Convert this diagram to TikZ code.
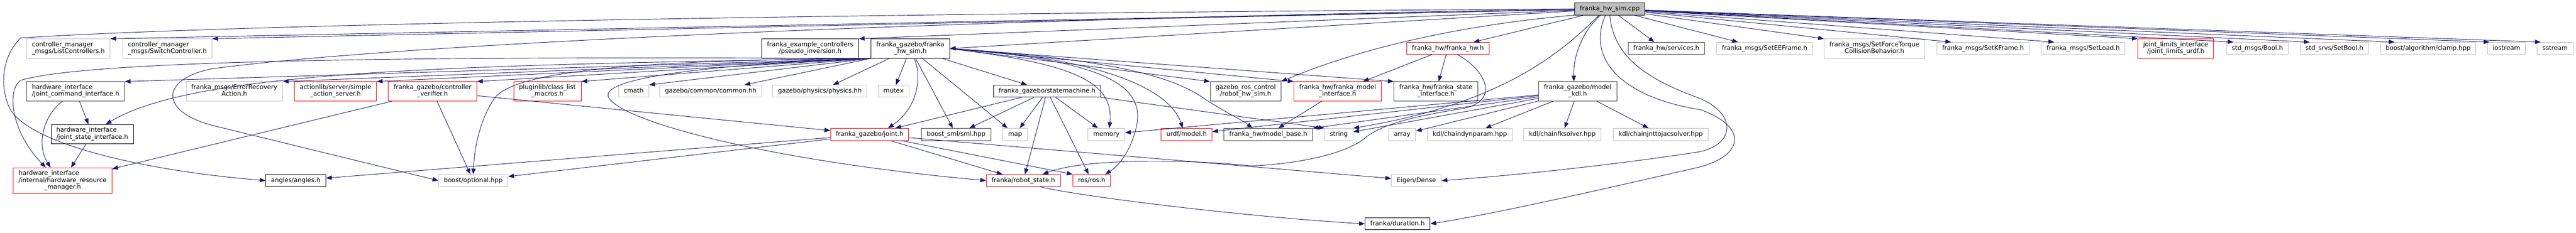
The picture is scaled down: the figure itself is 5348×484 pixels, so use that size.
\documentclass[tikz,border=0pt]{standalone}
\usepackage{fontspec}
\setmainfont{DejaVu Sans}
\usetikzlibrary{arrows.meta}
\usepackage{xcolor}

\definecolor{edgeblue}{HTML}{191970}
\definecolor{grey75}{HTML}{BFBFBF}
\definecolor{grey25}{HTML}{404040}

% doxygen labels: lines left aligned, last line centred
\newcommand{\twol}[2]{\begin{tabular}{@{}l@{}}#1\\\multicolumn{1}{@{}c@{}}{#2}\end{tabular}}
\newcommand{\threel}[3]{\begin{tabular}{@{}l@{}}#1\\#2\\\multicolumn{1}{@{}c@{}}{#3}\end{tabular}}

\tikzset{
  hdr/.style={draw, line width=1pt, inner xsep=11pt, inner ysep=0pt,
    font={\fontsize{13}{14.3}\selectfont}},
  one/.style={hdr, minimum height=25pt, text height=9.6pt, text depth=2.8pt},
  two/.style={hdr, minimum height=40pt},
  three/.style={hdr, minimum height=54pt},
  doc/.style={draw=black},
  docg/.style={draw=grey25},
  sys/.style={draw=grey75},
  trunc/.style={draw=red},
  dep/.style={edgeblue, line width=1pt, -{Triangle[length=12pt,width=9pt]}}
}

\begin{document}
\begin{tikzpicture}[x=1pt, y=-1pt]
    \useasboundingbox (0,0) rectangle (5348,484);

    % source file
    \node[one, doc, fill=grey75] (cpp) at (3342,18.5) {franka\_hw\_sim.cpp};

    % direct includes
    \node[two, sys] (lc) at (142,101) {\twol{controller\_manager}{\_msgs/ListControllers.h}};
    \node[two, sys] (sc) at (347.5,101) {\twol{controller\_manager}{\_msgs/SwitchController.h}};
    \node[two, doc] (pinv) at (1682,101) {\twol{franka\_example\_controllers}{/pseudo\_inversion.h}};
    \node[two, doc] (hwsimh) at (1890,101) {\twol{franka\_gazebo/franka}{\_hw\_sim.h}};
    \node[one, trunc] (fhw) at (3006,100.5) {franka\_hw/franka\_hw.h};
    \node[one, docg] (svc) at (3459.5,100.5) {franka\_hw/services.h};
    \node[one, sys] (seeframe) at (3663.5,100.5) {franka\_msgs/SetEEFrame.h};
    \node[two, sys] (sftcb) at (3891.5,101) {\twol{franka\_msgs/SetForceTorque}{CollisionBehavior.h}};
    \node[one, sys] (skframe) at (4117,100.5) {franka\_msgs/SetKFrame.h};
    \node[one, sys] (setload) at (4325,100.5) {franka\_msgs/SetLoad.h};
    \node[two, trunc] (jlurdf) at (4517,101) {\twol{joint\_limits\_interface}{/joint\_limits\_urdf.h}};
    \node[one, sys] (boolh) at (4686.5,100.5) {std\_msgs/Bool.h};
    \node[one, sys] (setbool) at (4846.5,100.5) {std\_srvs/SetBool.h};
    \node[one, sys] (clamp) at (5041,100.5) {boost/algorithm/clamp.hpp};
    \node[one, sys] (iostream) at (5203.5,100.5) {iostream};
    \node[one, sys] (sstream) at (5304.5,100.5) {sstream};

    % third row
    \node[two, docg] (jci) at (157,190) {\twol{hardware\_interface}{/joint\_command\_interface.h}};
    \node[two, sys] (erra) at (486.5,190) {\twol{franka\_msgs/ErrorRecovery}{Action.h}};
    \node[two, trunc] (sas) at (696.5,190) {\twol{actionlib/server/simple}{\_action\_server.h}};
    \node[two, trunc] (cver) at (898,190) {\twol{franka\_gazebo/controller}{\_verifier.h}};
    \node[two, trunc] (plugin) at (1136.5,190) {\twol{pluginlib/class\_list}{\_macros.h}};
    \node[one, sys] (cmath) at (1315.5,189.5) {cmath};
    \node[one, sys] (common) at (1475.5,189.5) {gazebo/common/common.hh};
    \node[one, sys] (physics) at (1702,189.5) {gazebo/physics/physics.hh};
    \node[one, sys] (mutex) at (1855,189.5) {mutex};
    \node[one, doc] (smach) at (2174,189.5) {franka\_gazebo/statemachine.h};
    \node[two, docg] (grc) at (2586,190) {\twol{gazebo\_ros\_control}{/robot\_hw\_sim.h}};
    \node[two, trunc] (fmi) at (2777,190) {\twol{franka\_hw/franka\_model}{\_interface.h}};
    \node[two, docg] (fsi) at (2981,190) {\twol{franka\_hw/franka\_state}{\_interface.h}};
    \node[two, docg] (mkdl) at (3275.5,190) {\twol{franka\_gazebo/model}{\_kdl.h}};

    % fourth row
    \node[two, doc] (jsi) at (191.5,279) {\twol{hardware\_interface}{/joint\_state\_interface.h}};
    \node[one, trunc] (joint) at (1805.5,279.5) {franka\_gazebo/joint.h};
    \node[one, docg] (sml) at (1985,279.5) {boost\_sml/sml.hpp};
    \node[one, sys] (map) at (2107.5,279.5) {map};
    \node[one, sys] (memory) at (2297,279.5) {memory};
    \node[one, trunc] (urdf) at (2463.5,279.5) {urdf/model.h};
    \node[one, docg] (mbase) at (2633,279.5) {franka\_hw/model\_base.h};
    \node[one, sys] (string) at (2779.5,279.5) {string};
    \node[one, sys] (array) at (2911,279.5) {array};
    \node[one, sys] (cdyn) at (3051.5,279.5) {kdl/chaindynparam.hpp};
    \node[one, sys] (cfk) at (3243.5,279.5) {kdl/chainfksolver.hpp};
    \node[one, sys] (cjac) at (3447.5,279.5) {kdl/chainjnttojacsolver.hpp};

    % fifth and last rows
    \node[three, trunc] (hrm) at (130,376) {\threel{hardware\_interface}{/internal/hardware\_resource}{\_manager.h}};
    \node[one, doc] (angles) at (614,375.5) {angles/angles.h};
    \node[one, sys] (optional) at (982.5,375.5) {boost/optional.hpp};
    \node[one, trunc] (rstate) at (2124.5,375.5) {franka/robot\_state.h};
    \node[one, trunc] (ros) at (2266.5,375.5) {ros/ros.h};
    \node[one, sys] (eigen) at (2940.5,375.5) {Eigen/Dense};
    \node[one, doc] (duration) at (2901.5,465.5) {franka/duration.h};

    % edges from the source file
    \foreach \n in {lc, sc, pinv}
        \draw[dep] (cpp) -- (\n.north east);
    \foreach \n/\dx in {svc/55, seeframe/45, sftcb/0, skframe/30, setload/27,
            jlurdf/0, boolh/15, setbool/20, clamp/30, iostream/5, sstream/8}
        \draw[dep] (cpp) -- ([xshift=\dx pt]\n.north west);
    \draw[dep] (cpp) -- (hwsimh.east);
    \draw[dep] (cpp) -- (fhw);
    \draw[dep] ([xshift=-19pt]cpp.south) .. controls (3290,60) and (3266,110) .. ([xshift=-8pt]mkdl.north);
    \draw[dep] (cpp.south west) .. controls (3000,55) and (2800,110) .. (grc.north east);
    \draw[dep] ([xshift=-22pt]cpp.south) .. controls (3240,110) and (3120,215) .. (string.north east);
    \draw[dep] (cpp.south) .. controls (3350,120) and (3420,165) .. (3530,205)
        .. controls (3610,240) and (3600,305) .. (3520,317)
        .. controls (3300,350) and (3100,368) .. (eigen.east);
    \draw[dep] ([xshift=-9pt]cpp.south) .. controls (3290,130) and (3380,205) .. (3530,228)
        .. controls (3625,262) and (3625,320) .. (3530,347)
        .. controls (3300,400) and (3100,445) .. (duration.east);
    \draw[dep] (cpp.west) .. controls (1500,30) and (400,55) .. (43,79)
        .. controls (10,110) and (-5,170) .. (20,225)
        .. controls (60,300) and (300,355) .. (angles.west);
    \draw[dep] (cpp.west) .. controls (1800,45) and (800,95) .. (440,143)
        .. controls (330,165) and (330,235) .. (450,263) -- (optional.west);

    % edges from franka_hw_sim.h
    \foreach \n in {erra, sas, cver, plugin, cmath}
        \draw[dep] (hwsimh.south west) -- (\n.north east);
    \foreach \n in {physics, mutex, sml, map, smach}
        \draw[dep] (hwsimh) -- (\n);
    \foreach \n in {grc, fmi, fsi}
        \draw[dep] (hwsimh.east) -- (\n.north west);
    \draw[dep] (hwsimh.south west) -- (jci.north east);
    \draw[dep] (hwsimh.south west) .. controls (900,135) and (400,150) .. ([xshift=28pt]jsi.north);
    \draw[dep] (hwsimh.south west) .. controls (1000,118) and (200,120) .. (43,167)
        .. controls (15,185) and (20,270) .. ([xshift=-35pt]hrm.north);
    \draw[dep] (hwsimh.south west) -- ([xshift=70pt]common.north);
    \draw[dep] ([xshift=8pt]hwsimh.south) .. controls (1915,160) and (1905,225) .. ([xshift=38pt]joint.north);
    \draw[dep] (hwsimh.east) .. controls (2200,130) and (2315,160) .. ([xshift=6pt]memory.north);
    \draw[dep] (hwsimh.east) .. controls (2300,125) and (2375,180) .. (2360,260)
        .. controls (2352,300) and (2330,340) .. ([xshift=28pt]ros.north);
    \draw[dep] (hwsimh.east) .. controls (2300,120) and (2430,190) .. ([xshift=-8pt]urdf.north);
    \draw[dep] (hwsimh.east) .. controls (2350,125) and (2450,170) .. (2500,205)
        .. controls (2540,232) and (2580,250) .. ([xshift=-33pt]mbase.north);
    \draw[dep] (hwsimh.south west) .. controls (1450,135) and (1235,165) .. (1265,205)
        .. controls (1300,255) and (1600,335) .. (rstate.west);
    \draw[dep] (hwsimh.south west) .. controls (1300,125) and (1080,150) .. (1030,200)
        .. controls (1000,240) and (985,300) .. (optional.north);

    % edges from franka_hw.h
    \draw[dep] (fhw) -- (fmi);
    \draw[dep] (fhw) -- (fsi);
    \draw[dep] ([xshift=20pt]fhw.south) .. controls (3090,150) and (3110,210) .. (3040,225)
        .. controls (2950,240) and (2870,255) .. (2830,290)
        .. controls (2790,320) and (2700,340) .. (2600,345)
        .. controls (2450,330) and (2250,330) .. ([xshift=40pt]rstate.north);

    % edges of the other headers
    \foreach \n in {joint, sml, map, rstate, memory, ros}
        \draw[dep] (smach) -- (\n);
    \draw[dep] (smach.south east) -- (string.north west);
    \foreach \n in {hrm, optional, joint}
        \draw[dep] (cver) -- (\n);
    \draw[dep] (jci) -- (jsi);
    \draw[dep] ([xshift=-27pt]jci.south) .. controls (90,240) and (75,300) .. ([xshift=-25pt]hrm.north);
    \draw[dep] (jsi) -- (hrm);
    \foreach \n in {angles, optional, rstate, eigen}
        \draw[dep] (joint) -- (\n);
    \draw[dep] (joint) -- (ros.north west);
    \draw[dep] (fmi) -- (mbase);
    \foreach \n in {mbase, cdyn, cfk, cjac, urdf, memory, string, array}
        \draw[dep] (mkdl) -- (\n);
    \draw[dep] ([xshift=35pt]rstate.south) .. controls (2250,410) and (2600,452) .. (duration.west);
\end{tikzpicture}
\end{document}
